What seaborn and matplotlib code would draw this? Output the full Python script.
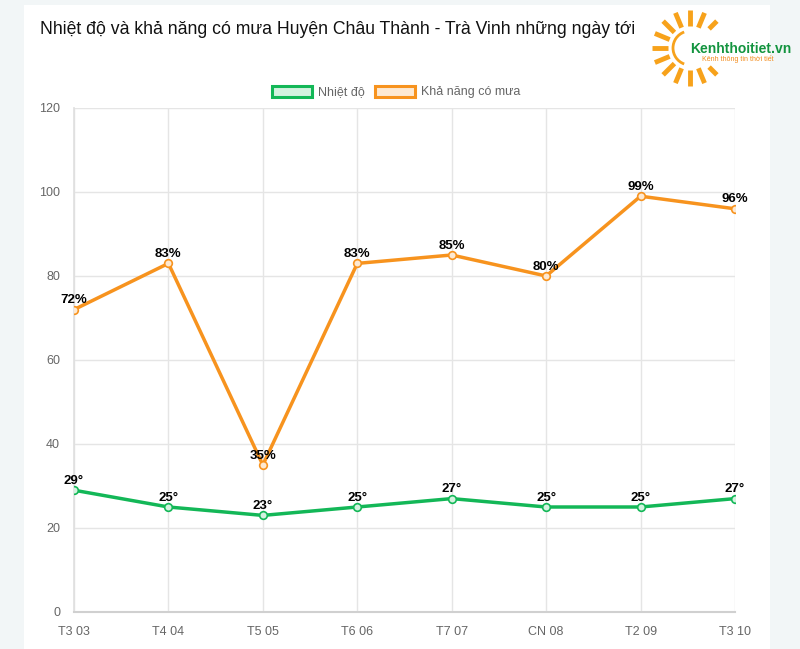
import numpy as np
import pandas as pd
import matplotlib.pyplot as plt
import matplotlib.patches as mpatches
import seaborn as sns

days = ["T3 03", "T4 04", "T5 05", "T6 06", "T7 07", "CN 08", "T2 09", "T3 10"]
temperature = [29, 25, 23, 25, 27, 25, 25, 27]
rain_chance = [72, 83, 35, 83, 85, 80, 99, 96]
y_ticks = [0, 20, 40, 60, 80, 100, 120]

title = "Nhiệt độ và khả năng có mưa Huyện Châu Thành - Trà Vinh những ngày tới"
green = "#13b757"
orange = "#f7931e"

sns.set_theme(style="white")
plt.rcParams['font.family'] = ['Liberation Sans', 'DejaVu Sans']

W, H = 800, 649
fig = plt.figure(figsize=(W / 100, H / 100), dpi=100)
fig.patch.set_facecolor("#f2f6f7")
# white card behind the chart
fig.add_artist(mpatches.Rectangle((24 / W, 0), (770 - 24) / W, (H - 5) / H,
                                  transform=fig.transFigure, facecolor="white",
                                  edgecolor="none", zorder=0))

ax = fig.add_axes([74 / W, (H - 612) / H, (735 - 74) / W, (612 - 108) / H])
ax.set_facecolor("white")

df = pd.DataFrame({"day": days, "temp": temperature, "rain": rain_chance})
df["pos"] = np.arange(len(days))

sns.lineplot(data=df, x="pos", y="rain", color=orange, linewidth=2.5, ax=ax,
             marker="o", markersize=5.5, markerfacecolor="#fde9d2",
             markeredgecolor=orange, markeredgewidth=1.2, zorder=3)
sns.lineplot(data=df, x="pos", y="temp", color=green, linewidth=2.5, ax=ax,
             marker="o", markersize=5.5, markerfacecolor="#d3f2df",
             markeredgecolor=green, markeredgewidth=1.2, zorder=3)

for p, v in zip(df["pos"], df["rain"]):
    ax.annotate(f"{v}%", (p, v), xytext=(0, 2.5), textcoords="offset points",
                ha="center", va="bottom", fontsize=9.5, fontweight="bold",
                color="black", zorder=5)
for p, v in zip(df["pos"], df["temp"]):
    ax.annotate(f"{v}°", (p, v), xytext=(0, 2.5), textcoords="offset points",
                ha="center", va="bottom", fontsize=9.5, fontweight="bold",
                color="black", zorder=5)

ax.set_xlim(0, len(days) - 1)
ax.set_ylim(0, 120)
ax.set_xticks(df["pos"])
ax.set_xticklabels(days)
ax.set_yticks(y_ticks)
ax.set_xlabel("")
ax.set_ylabel("")
ax.grid(True, color="#e5e5e5", linewidth=1)
ax.tick_params(axis="both", colors="#666666", labelsize=9, length=7,
               width=1, pad=3)
ax.tick_params(axis="both", which="both", color="#e0e0e0")
for s in ["top", "right"]:
    ax.spines[s].set_visible(False)
ax.spines["left"].set_color("#e0e0e0")
ax.spines["bottom"].set_color("#d0d0d0")
ax.spines["bottom"].set_linewidth(1.5)

# legend like chart.js
handles = [mpatches.Patch(facecolor="#d3f2df", edgecolor=green, linewidth=2.2, label="Nhiệt độ"),
           mpatches.Patch(facecolor="#fde9d2", edgecolor=orange, linewidth=2.2, label="Khả năng có mưa")]
fig.legend(handles=handles, loc="center", bbox_to_anchor=(396 / W, 1 - 92 / H),
           ncol=2, frameon=False, fontsize=9, handlelength=3.2, handleheight=1.0,
           handletextpad=0.5, columnspacing=0.8, labelcolor="#666666")

fig.text(40 / W, 1 - 30 / H, title, fontsize=12.7, color="#111111",
         ha="left", va="center")

# logo
lx = fig.add_axes([640 / W, 1 - 95 / H, 160 / W, 95 / H])
lx.set_xlim(0, 160)
lx.set_ylim(95, 0)
lx.axis("off")
cx, cy = 50, 48
for a in np.arange(0, 360, 22.5):
    if a < 35 or a > 325:
        continue
    t = np.deg2rad(a)
    r0 = 22 if 60 < a < 300 else 27
    lx.plot([cx + r0 * np.cos(t), cx + 38 * np.cos(t)],
            [cy + r0 * np.sin(t), cy + 38 * np.sin(t)],
            color="#f7a21b", linewidth=3.5, solid_capstyle="butt")
arc = mpatches.Arc((cx, cy), 34, 34, theta1=110, theta2=250, color="#f7a21b", linewidth=2)
lx.add_patch(arc)
lx.text(50, 49, "Kenhthoitiet.vn", color="#13943f", fontsize=10, fontweight="bold",
        ha="left", va="center")
lx.text(62, 58.5, "Kênh thông tin thời tiết", color="#f28a1a", fontsize=5,
        ha="left", va="center")

fig.savefig("out.png", dpi=100)
